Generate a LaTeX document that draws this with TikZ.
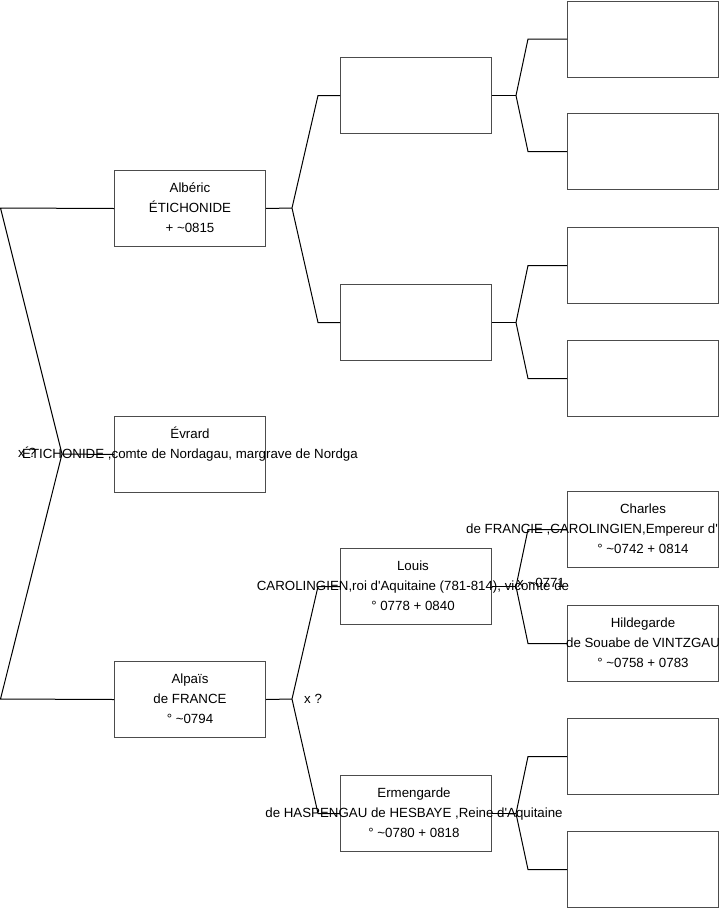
\documentclass[tikz,border=0pt]{standalone}
\usepackage{fontspec}
\setmainfont{Liberation Sans}[Ligatures=TeXOff]
\usetikzlibrary{positioning}

\tikzset{
  pbox/.style={draw=black!70, line width=1pt, minimum width=151pt, minimum height=76pt, inner sep=0pt, anchor=north west},
  ptext/.style={font=\fontsize{13.3}{20}\selectfont, align=center, inner sep=0pt},
  link/.style={draw=black, line width=1pt},
  xlab/.style={font=\fontsize{13.3}{20}\selectfont, inner sep=0pt, anchor=base west}
}

\begin{document}
\begin{tikzpicture}[x=1pt,y=-1pt]
\useasboundingbox (0,0) rectangle (719,908);
% column 1
\node[pbox] (alb) at (114,170) {};
\node[pbox] (evr) at (114,416) {};
\node[pbox] (alp) at (114,661) {};
% column 2
\node[pbox] (pa) at (340,57) {};
\node[pbox] (pb) at (340,284) {};
\node[pbox] (lou) at (340,548) {};
\node[pbox] (erm) at (340,775) {};
% column 3
\node[pbox] (qa) at (567,0.5) {};
\node[pbox] (qb) at (567,113) {};
\node[pbox] (qc) at (567,227) {};
\node[pbox] (qd) at (567,340) {};
\node[pbox] (cha) at (567,491) {};
\node[pbox] (hil) at (567,605) {};
\node[pbox] (qg) at (567,718) {};
\node[pbox] (qh) at (567,831) {};

% texts
\node[ptext] (alb-t) at (alb.center) {\strut Albéric\\\strut ÉTICHONIDE\\\strut + \textasciitilde0815};
\node[ptext] (evr-t) at (evr.center) {\strut Évrard\\\strut ÉTICHONIDE ,comte de Nordagau, margrave de Nordga\\\strut};
\node[ptext] (alp-t) at (alp.center) {\strut Alpaïs\\\strut de FRANCE\\\strut ° \textasciitilde0794};
\node[ptext] (lou-t) at ([xshift=-3pt]lou.center) {\strut Louis\\\strut CAROLINGIEN,roi d'Aquitaine (781-814), vicomte de\\\strut ° 0778 + 0840};
\node[ptext] (erm-t) at ([xshift=-2pt]erm.center) {\strut Ermengarde\\\strut de HASPENGAU de HESBAYE ,Reine d'Aquitaine\\\strut ° \textasciitilde0780 + 0818};
\node[ptext] (cha-t) at (cha.center) {\strut Charles\\\strut\\\strut ° \textasciitilde0742 + 0814};
\node[xlab] (cha-l) at (466,533) {de FRANCIE ,CAROLINGIEN,Empereur d'};
\node[ptext] (hil-t) at (hil.center) {\strut Hildegarde\\\strut de Souabe de VINTZGAU\\\strut ° \textasciitilde0758 + 0783};

% root fork
\coordinate (r) at (62,454);
\draw[link] (alb.west) -- (0.5,208) -- (r) -- (0.5,699) -- (alp.west);
\draw[link] (r) -- (evr.west);
\node[xlab] (r-x) at (18,457) {x ?};

% forks to column 2
\coordinate (fa) at (292,208);
\draw[link] (alb.east) -- (fa);
\draw[link] (pa.west) -- ([xshift=-22pt]pa.west) -- (fa) -- ([xshift=-22pt]pb.west) -- (pb.west);
\coordinate (fb) at (292,699);
\draw[link] (alp.east) -- (fb);
\draw[link] (lou.west) -- ([xshift=-22pt]lou.west) -- (fb) -- ([xshift=-22pt]erm.west) -- (erm.west);
\node[xlab] (fb-x) at (304,703) {x ?};

% forks to column 3
\foreach \p/\u/\d in {pa/qa/qb, pb/qc/qd, lou/cha/hil, erm/qg/qh}{
  \coordinate (v-\p) at ([xshift=24pt]\p.east);
  \draw[link] (\p.east) -- (v-\p);
  \draw[link] (\u.west) -- ([xshift=-39pt]\u.west) -- (v-\p) -- ([xshift=-39pt]\d.west) -- (\d.west);
}
\node[xlab] (lou-x) at (517,587) {x \textasciitilde0771};
\end{tikzpicture}
\end{document}
